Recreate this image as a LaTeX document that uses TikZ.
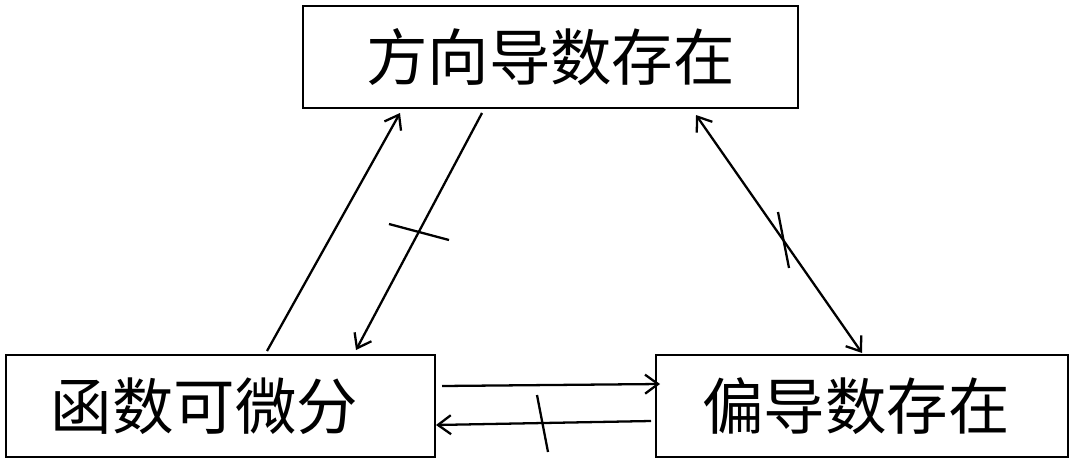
\documentclass[tikz,border=0pt]{standalone}
\usepackage{fontspec}
\newfontfamily\cjk{Noto Sans CJK SC}
\usetikzlibrary{arrows.meta}
\tikzset{
  statebox/.style={draw, line width=1.5pt, rectangle, inner sep=0pt,
    font=\cjk\fontsize{35}{40}\selectfont},
  impl/.style={line width=1.3pt, -{Straight Barb[length=0.26cm, width=0.38cm, line width=1.3pt]}},
  bothimpl/.style={line width=1.3pt, {Straight Barb[length=0.26cm, width=0.38cm, line width=1.3pt]}-{Straight Barb[length=0.26cm, width=0.38cm, line width=1.3pt]}},
  notmark/.style={line width=1.3pt}
}
\begin{document}
\begin{tikzpicture}[x=0.02cm, y=-0.02cm]
  \useasboundingbox (0,0) rectangle (1074,463);

  % Boxes
  \node [statebox, minimum width=9.9cm, minimum height=2.04cm] (dirder) at (550.5,57) {方向导数存在};
  \node [statebox, minimum width=8.58cm, minimum height=2.04cm] (diff) at (220.5,406) {\hspace*{-0.64cm}函数可微分};
  \node [statebox, minimum width=8.24cm, minimum height=2.04cm] (partial) at (862,406) {\hspace*{-0.24cm}偏导数存在};

  % End points of connectors
  \coordinate (diffup) at (267,351);
  \coordinate (dirdown) at (400,113);
  \coordinate (dirout) at (482,113);
  \coordinate (diffin) at (356,350);
  \coordinate (dirright) at (696,115);
  \coordinate (partialtop) at (862,353);
  \coordinate (diffright) at (442,386);
  \coordinate (partialin) at (660,384);
  \coordinate (partialout) at (651,421);
  \coordinate (diffback) at (436,425);

  % Differentiable implies directional derivative
  \draw [impl] (diffup) -- (dirdown);

  % Directional derivative does not imply differentiable
  \draw [impl] (dirout) -- (diffin);
  \draw [notmark] (389,224) -- (449,240);

  % Directional and partial derivative, neither way
  \draw [bothimpl] (dirright) -- (partialtop);
  \draw [notmark] (778,212) -- (789,268);

  % Differentiable implies partial derivative
  \draw [impl] (diffright) -- (partialin);

  % Partial derivative does not imply differentiable
  \draw [impl] (partialout) -- (diffback);
  \draw [notmark] (537,395) -- (548,452);
\end{tikzpicture}
\end{document}
